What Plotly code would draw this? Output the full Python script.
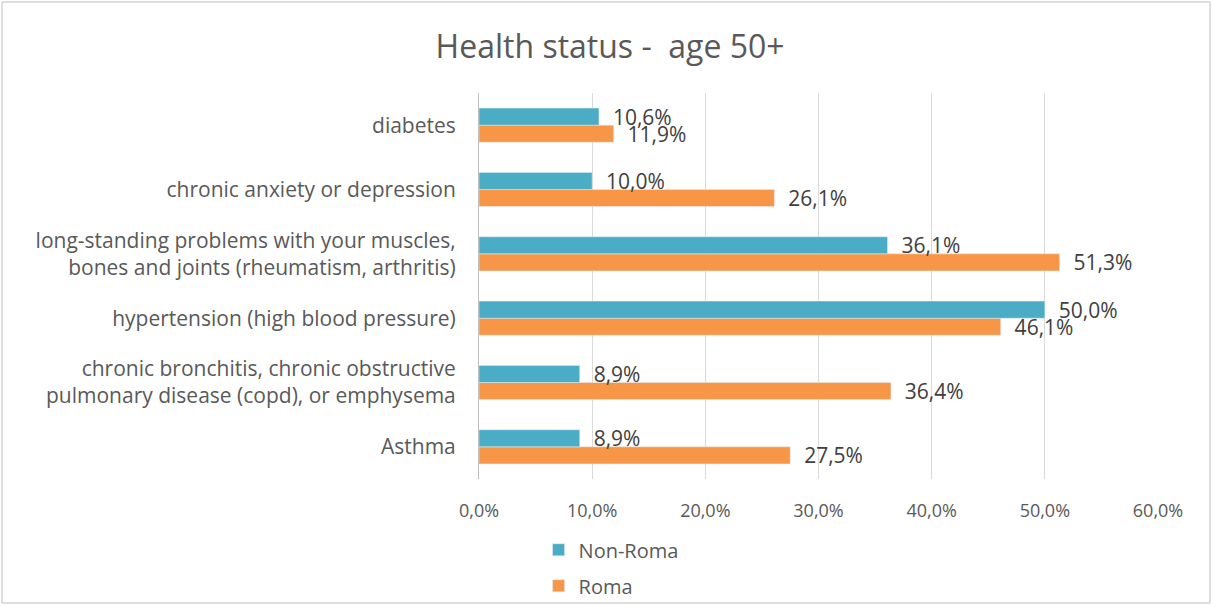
import plotly.graph_objects as go

categories = ["Asthma",
              "chronic bronchitis, chronic obstructive<br>pulmonary disease (copd), or emphysema",
              "hypertension (high blood pressure)",
              "long-standing problems with your muscles,<br>bones and joints (rheumatism, arthritis)",
              "chronic anxiety or depression",
              "diabetes"]
non_roma = [8.9, 8.9, 50.0, 36.1, 10.0, 10.6]
roma = [27.5, 36.4, 46.1, 51.3, 26.1, 11.9]
tick_vals = [0, 10, 20, 30, 40, 50, 60]
tick_text = ["0,0%", "10,0%", "20,0%", "30,0%", "40,0%", "50,0%", "60,0%"]

FONT = "Open Sans"
GREY = "#595959"

fig = go.Figure()
fig.add_trace(go.Bar(y=categories, x=roma, name="Roma", orientation="h",
                     legendgroup="r", legendrank=2,
                     marker_color="#F79646", texttemplate="\u00a0\u00a0%{x:.1f}%",
                     textposition="outside", cliponaxis=False, constraintext="none",
                     textfont=dict(size=21, color="#404040", family=FONT)))
fig.add_trace(go.Bar(y=categories, x=non_roma, name="Non-Roma", orientation="h",
                     legendgroup="n", legendrank=1,
                     marker_color="#4BACC6", texttemplate="\u00a0\u00a0%{x:.1f}%",
                     textposition="outside", cliponaxis=False, constraintext="none",
                     textfont=dict(size=21, color="#404040", family=FONT)))

fig.update_layout(
    width=1213, height=606,
    separators=",.",
    barmode="group", bargap=0.47, bargroupgap=0,
    paper_bgcolor="white", plot_bgcolor="white",
    margin=dict(l=479, r=55, t=93, b=127, autoexpand=False),
    font=dict(family=FONT, color=GREY, size=18),
    title=dict(text="Health status -  age 50+", x=0.503, xanchor="center",
               y=0.923, yanchor="middle", font=dict(size=32, color=GREY, family=FONT)),
    xaxis=dict(range=[0, 60], tickvals=tick_vals, ticktext=tick_text,
               showgrid=True, gridcolor="#D9D9D9", gridwidth=1, zeroline=False,
               tickfont=dict(size=18, color=GREY), ticks="", ticklen=0,
               ticklabelstandoff=19, automargin=False),
    yaxis=dict(showline=True, linecolor="#BFBFBF", linewidth=1, ticks="",
               tickfont=dict(size=21, color=GREY), automargin=False, ticklabelstandoff=18),
    legend=dict(orientation="v", traceorder="grouped", xref="container", yref="container",
                x=0.444, xanchor="left", y=0.125, yanchor="top",
                font=dict(size=20, color=GREY), bgcolor="rgba(0,0,0,0)",
                itemwidth=30, tracegroupgap=7),
    showlegend=True,
    shapes=[dict(type="rect", xref="paper", yref="paper",
                 x0=-477/679, x1=(1210-479)/679, y0=-(603-479)/386, y1=(479-2)/386,
                 line=dict(color="#BFBFBF", width=1), fillcolor="rgba(0,0,0,0)", layer="below")],
)

fig.write_html("out.html", config={"displayModeBar": False},
               post_script="document.body.style.margin='0';document.body.style.overflow='hidden';")
